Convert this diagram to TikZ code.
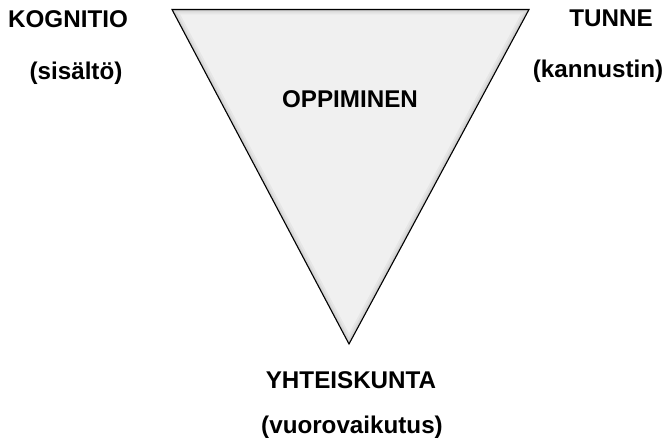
\documentclass[tikz,border=0pt]{standalone}
\usepackage{fontspec}
\setmainfont{Liberation Sans}
\begin{document}
\begin{tikzpicture}[x=1pt,y=-1pt,
  lbl/.style={font=\bfseries\fontsize{24.2}{28}\selectfont, inner sep=0pt, text=black},
  tri/.style={draw=black, line width=1.1pt, line join=miter, fill={rgb,255:red,240;green,240;blue,240}}]
\useasboundingbox (0,0) rectangle (671,438);
\coordinate (tl) at (172,9.5);
\coordinate (tr) at (529,9.5);
\coordinate (bt) at (349,344);
\fill[tri, draw=none] (tl) -- (tr) -- (bt) -- cycle;
\begin{scope}
  \clip (tl) -- (tr) -- (bt) -- cycle;
  \foreach \w/\o in {10/0.04,6/0.05,3/0.06}{
    \draw[line width=\w pt, black, opacity=\o, line join=miter] (tl) -- (tr) -- (bt) -- cycle;
  }
\end{scope}
\draw[tri, fill=none] (tl) -- (tr) -- (bt) -- cycle;
\node[lbl, anchor=base west] (kog) at (8,28) {KOGNITIO};
\node[lbl, anchor=base] (sis) at (76,80) {(sisältö)};
\node[lbl, anchor=base] (tun) at (611,27) {TUNNE};
\node[lbl, anchor=base] (kan) at (598,78) {(kannustin)};
\node[lbl, anchor=base] (opp) at (350,108) {OPPIMINEN};
\node[lbl, anchor=base] (yht) at (351,388) {YHTEISKUNTA};
\node[lbl, anchor=base] (vuo) at (352,433) {(vuorovaikutus)};
\end{tikzpicture}
\end{document}
